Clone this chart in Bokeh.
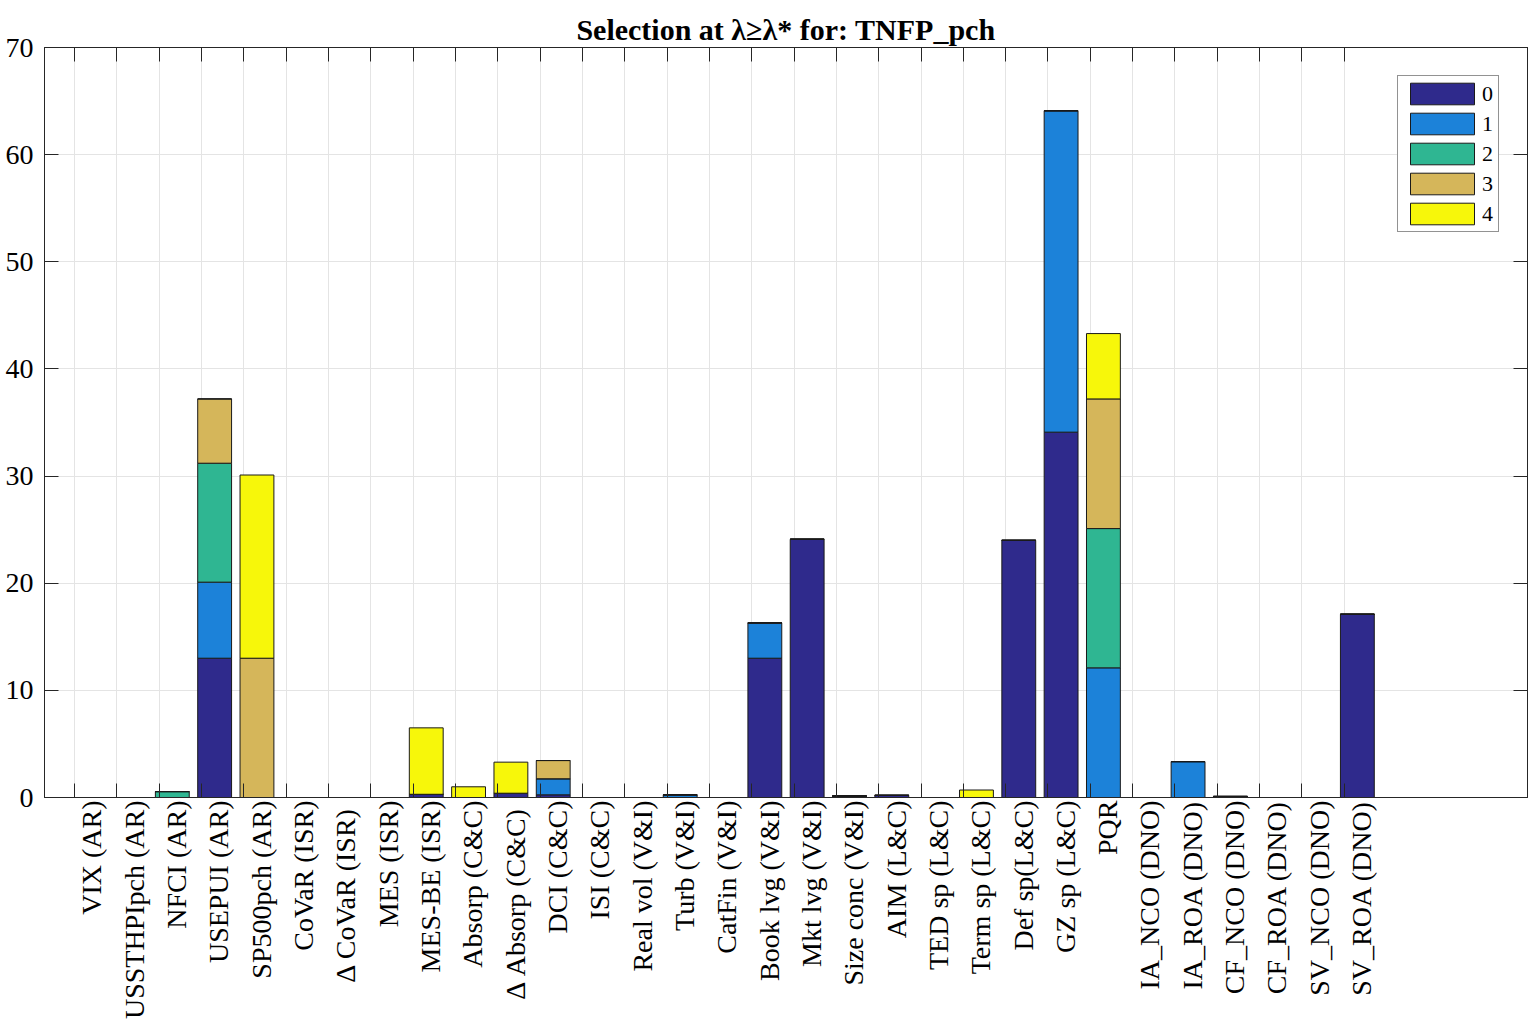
import math
from bokeh.plotting import figure
from bokeh.models import ColumnDataSource, FixedTicker, LinearAxis, Range1d
from bokeh.embed import file_html
from bokeh.resources import INLINE

# ---------------- data ----------------
categories = ["VIX (AR)", "USSTHPIpch (AR)", "NFCI (AR)", "USEPUI (AR)", "SP500pch (AR)",
              "CoVaR (ISR)", "\u0394 CoVaR  (ISR)", "MES (ISR)", "MES-BE (ISR)", "Absorp (C&C)",
              "\u0394 Absorp  (C&C)", "DCI (C&C)", "ISI (C&C)", "Real vol (V&I)", "Turb (V&I)",
              "CatFin (V&I)", "Book lvg (V&I)", "Mkt lvg (V&I)", "Size conc (V&I)", "AIM (L&C)",
              "TED sp (L&C)", "Term sp (L&C)", "Def sp(L&C)", "GZ sp (L&C)", "PQR",
              "IA_NCO (DNO)", "IA_ROA (DNO)", "CF_NCO (DNO)", "CF_ROA (DNO)", "SV_NCO (DNO)",
              "SV_ROA (DNO)"]

series_names = ["0", "1", "2", "3", "4"]

s0 = [0, 0, 0, 13.0, 0, 0, 0, 0, 0.3, 0, 0.4, 0.25, 0, 0, 0, 0, 13.0, 24.1, 0.15, 0.2,
      0, 0, 24.0, 34.1, 0, 0, 0, 0.1, 0, 0, 17.1]
s1 = [0, 0, 0, 7.1, 0, 0, 0, 0, 0, 0, 0, 1.5, 0, 0, 0.25, 0, 3.3, 0, 0, 0,
      0, 0, 0, 30.0, 12.1, 0, 3.35, 0, 0, 0, 0]
s2 = [0, 0, 0.55, 11.1, 0, 0, 0, 0, 0, 0, 0, 0, 0, 0, 0, 0, 0, 0, 0, 0,
      0, 0, 0, 0, 13.0, 0, 0, 0, 0, 0, 0]
s3 = [0, 0, 0, 6.0, 13.0, 0, 0, 0, 0, 0, 0, 1.7, 0, 0, 0, 0, 0, 0, 0, 0,
      0, 0, 0, 0, 12.1, 0, 0, 0, 0, 0, 0]
s4 = [0, 0, 0, 0, 17.1, 0, 0, 0, 6.2, 1.0, 2.9, 0, 0, 0, 0, 0, 0, 0, 0, 0,
      0, 0.7, 0, 0, 6.1, 0, 0, 0, 0, 0, 0]

colors = ["#2f2a8c", "#1c82d9", "#2fb692", "#d5b65a", "#f7f70a"]

y_ticks = [0, 10, 20, 30, 40, 50, 60, 70]
title_text = "Selection at \u03bb\u2265\u03bb* for: TNFP_pch"

# ---------------- layout helpers ----------------
FONT = "Liberation Serif"
AX = "#262626"
n = len(categories)
label_pos = list(range(1, n + 1))                # positions of the category labels
tick_pos = [k - 0.41 for k in label_pos]         # grid / tick marks
bar_pos = [k - 0.10 for k in label_pos]          # bar centres

source = ColumnDataSource(dict(x=bar_pos, s0=s0, s1=s1, s2=s2, s3=s3, s4=s4))

p = figure(frame_width=1483, frame_height=750,
           x_range=Range1d(-0.12, 34.92), y_range=Range1d(0, 70),
           output_backend="svg", toolbar_location=None,
           min_border_left=44, min_border_right=9, min_border_top=47, min_border_bottom=2,
           background_fill_color="white", border_fill_color="white")

rs = p.vbar_stack(["s0", "s1", "s2", "s3", "s4"], x="x", width=0.8, source=source,
                  color=colors, line_color="#1a1a1a", line_width=1,
                  legend_label=series_names)

# title
p.title.text = title_text
p.title.align = "center"
p.title.text_font = FONT
p.title.text_font_size = "30px"
p.title.text_font_style = "bold"
p.title.text_color = "black"
p.title.standoff = 4

# bottom axis: labels at label_pos, tick marks (minor) at tick_pos
xa = p.xaxis[0]
xa.ticker = FixedTicker(ticks=label_pos, minor_ticks=tick_pos)
xa.major_label_overrides = {k: c for k, c in zip(label_pos, categories)}
xa.major_label_orientation = math.pi / 2
xa.major_label_text_font = FONT
xa.major_label_text_font_size = "28px"
xa.major_label_text_color = "black"
xa.major_label_standoff = 3
xa.major_tick_in = 0
xa.major_tick_out = 0
xa.major_tick_line_color = None
xa.minor_tick_in = 14
xa.minor_tick_out = 0
xa.minor_tick_line_color = AX
xa.axis_line_color = AX

# left axis
ya = p.yaxis[0]
ya.ticker = FixedTicker(ticks=y_ticks)
ya.major_label_text_font = FONT
ya.major_label_text_font_size = "28px"
ya.major_label_text_color = "black"
ya.major_label_standoff = 11
ya.major_tick_in = 14
ya.major_tick_out = 0
ya.major_tick_line_color = AX
ya.minor_tick_line_color = None
ya.axis_line_color = AX

# top axis (tick marks only, labels not drawn)
top = LinearAxis(ticker=FixedTicker(ticks=tick_pos), major_tick_in=14, major_tick_out=0,
                 major_tick_line_color=AX, minor_tick_line_color=None,
                 major_label_text_font_size="1px", major_label_text_color=None,
                 major_label_standoff=0, axis_line_color=AX)
p.add_layout(top, "above")

# right axis (tick marks only, labels not drawn)
right = LinearAxis(ticker=FixedTicker(ticks=y_ticks), major_tick_in=14, major_tick_out=0,
                   major_tick_line_color=AX, minor_tick_line_color=None,
                   major_label_text_font_size="1px", major_label_text_color=None,
                   major_label_standoff=0, axis_line_color=AX)
p.add_layout(right, "right")

# grids
p.xgrid.ticker = FixedTicker(ticks=tick_pos)
p.ygrid.ticker = FixedTicker(ticks=y_ticks)
p.xgrid.grid_line_color = "#e4e4e4"
p.ygrid.grid_line_color = "#e4e4e4"
p.outline_line_color = AX

# legend
lg = p.legend[0]
lg.location = "top_right"
lg.margin = 28
lg.padding = 4
lg.spacing = 3
lg.glyph_width = 80
lg.glyph_height = 27
lg.label_height = 22
lg.label_width = 12
lg.label_standoff = 0
lg.label_text_font = FONT
lg.label_text_font_size = "22px"
lg.label_text_color = "black"
lg.border_line_color = AX
lg.border_line_width = 1
lg.background_fill_alpha = 1.0

open("out.html", "w").write(file_html(p, INLINE))
